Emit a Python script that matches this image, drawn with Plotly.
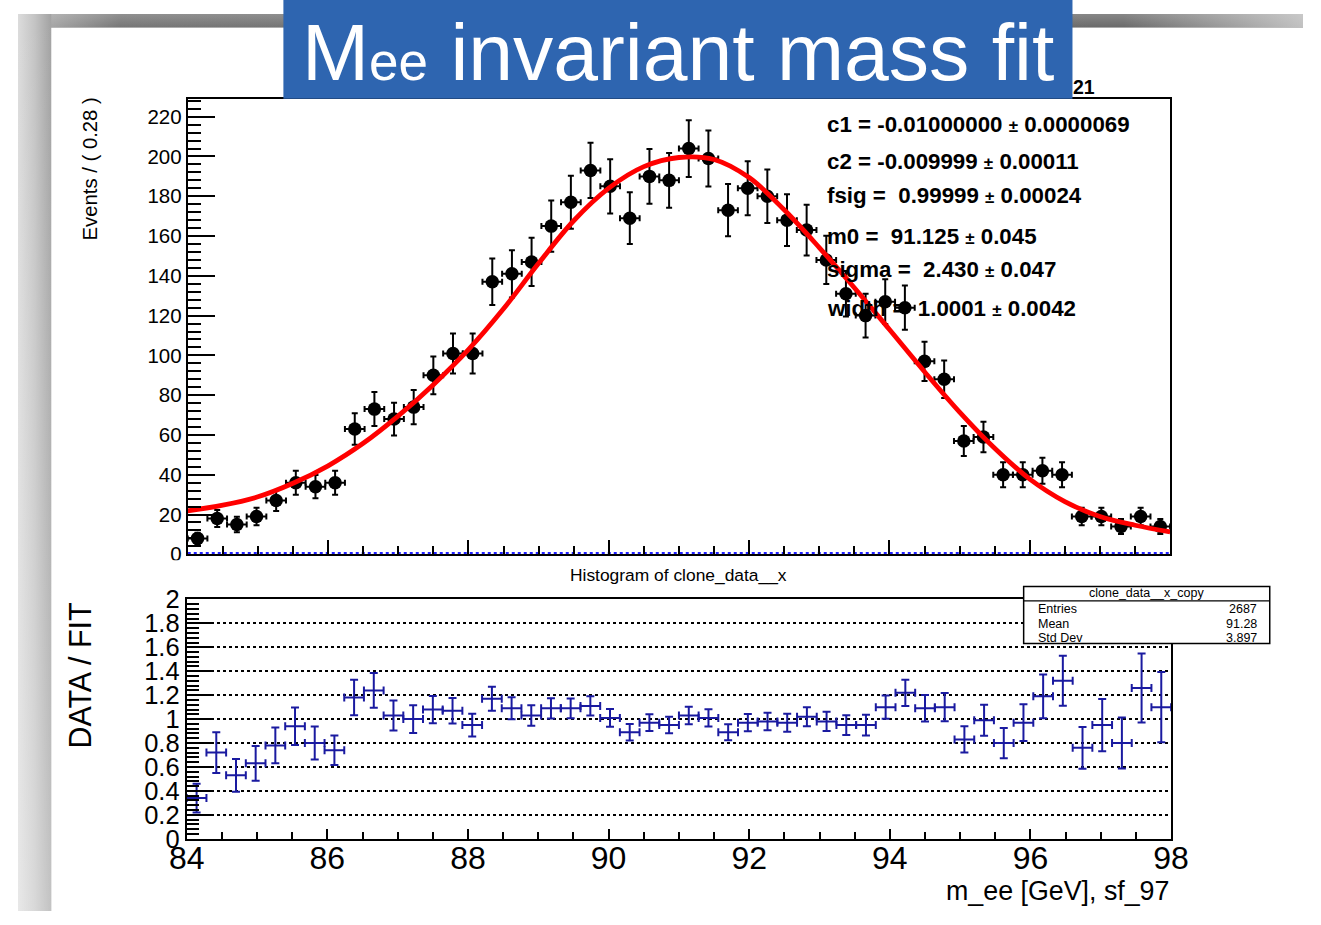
import base64
import numpy as np
import plotly.graph_objects as go

W, H = 1321, 925

# ---------------- data ----------------
bin_centers = [84.14, 84.42, 84.70, 84.98, 85.26, 85.54, 85.82, 86.10, 86.38, 86.66,
               86.94, 87.22, 87.50, 87.78, 88.06, 88.34, 88.62, 88.90, 89.18, 89.46,
               89.74, 90.02, 90.30, 90.58, 90.86, 91.14, 91.42, 91.70, 91.98, 92.26,
               92.54, 92.82, 93.10, 93.38, 93.66, 93.94, 94.22, 94.50, 94.78, 95.06,
               95.34, 95.62, 95.90, 96.18, 96.46, 96.74, 97.02, 97.30, 97.58, 97.86]
half_bin = 0.14

counts = [8, 18, 15, 19, 27, 36, 34, 36, 63, 73,
          68, 74, 90, 101, 101, 137, 141, 147, 165, 177,
          193, 185, 169, 190, 188, 204, 199, 173, 184, 180,
          168, 163, 148, 131, 120, 127, 124, 97, 88, 57,
          59, 40, 40, 42, 40, 19, 19, 14, 19, 14]

ratio = [0.34, 0.72, 0.53, 0.63, 0.78, 0.94, 0.80, 0.74, 1.18, 1.24,
         1.03, 1.00, 1.08, 1.07, 0.95, 1.17, 1.09, 1.03, 1.09, 1.09,
         1.11, 1.01, 0.89, 0.97, 0.95, 1.03, 1.01, 0.89, 0.97, 0.98,
         0.97, 1.02, 0.98, 0.95, 0.95, 1.10, 1.22, 1.09, 1.10, 0.83,
         0.99, 0.80, 0.97, 1.19, 1.32, 0.76, 0.95, 0.80, 1.26, 1.10]

fit_x = [84.0, 84.5, 85.0, 85.5, 86.0, 86.5, 87.0, 87.5, 88.0, 88.5,
         89.0, 89.5, 90.0, 90.5, 91.0, 91.5, 92.0, 92.5, 93.0, 93.5,
         94.0, 94.5, 95.0, 95.5, 96.0, 96.5, 97.0, 97.5, 98.0]
fit_y = [21.8, 24.7, 28.9, 35.7, 44.5, 55.8, 69.6, 85.3, 102.9, 123.4,
         146.3, 167.7, 184.1, 194.9, 199.5, 198.5, 189.4, 173.2, 154.2, 134.0,
         113.0, 91.8, 71.5, 53.3, 37.8, 26.5, 19.0, 14.6, 11.3]

bkg_x = [84.0, 98.0]
bkg_y = [0.6, 0.6]

fit_params = [("c1", "-0.01000000", "0.0000069"),
              ("c2", "-0.009999", "0.00011"),
              ("fsig", "\u00a00.99999", "0.00024"),
              ("m0", "\u00a091.125", "0.045"),
              ("sigma", "\u00a02.430", "0.047"),
              ("width", "\u00a01.0001", "0.0042")]
param_rows_px = [126, 162, 196, 237, 270, 309]

stat_title = "clone_data__x_copy"
stat_labels = ["Entries", "Mean", "Std Dev"]
stat_values = ["2687", "91.28", "3.897"]

y1_ticks = [0, 20, 40, 60, 80, 100, 120, 140, 160, 180, 200, 220]
y2_ticks = [0, 0.2, 0.4, 0.6, 0.8, 1.0, 1.2, 1.4, 1.6, 1.8, 2.0]
y2_ticktext = ["0", "0.2", "0.4", "0.6", "0.8", "1", "1.2", "1.4", "1.6", "1.8", "2"]
x_ticks = [84, 86, 88, 90, 92, 94, 96, 98]

count_err = np.sqrt(np.array(counts, dtype=float))
ratio_err = np.array(ratio) / np.sqrt(np.array(counts, dtype=float))

FONT = "Liberation Sans, Arial, Helvetica, sans-serif"
NAVY = "#1a1aa0"

# photographed picture = page padded by 16px and resized back: map target pixels to page
PAD = 16.0
SX = W / (W + 2 * PAD)
SY = H / (H + 2 * PAD)

def pgx(X):
    return X / SX - PAD

def pgy(Y):
    return Y / SY - PAD

def px(X):
    return pgx(X) / W

def py(Y):
    return (H - pgy(Y)) / H

fig = go.Figure()

fig.add_trace(go.Scatter(
    x=bin_centers, y=counts, mode="markers",
    marker=dict(color="black", size=13.5),
    error_y=dict(type="data", array=count_err, color="black", thickness=2, width=3),
    error_x=dict(type="constant", value=half_bin, color="black", thickness=2, width=3),
    xaxis="x", yaxis="y", showlegend=False, hoverinfo="skip"))

fig.add_trace(go.Scatter(
    x=fit_x, y=fit_y, mode="lines", line=dict(color="#ff0000", width=4.8, shape="spline", smoothing=1.0),
    xaxis="x", yaxis="y", showlegend=False, hoverinfo="skip"))

fig.add_trace(go.Scatter(
    x=bkg_x, y=bkg_y, mode="lines", line=dict(color="#2020ff", width=2, dash="dot"),
    xaxis="x", yaxis="y", showlegend=False, hoverinfo="skip"))

fig.add_trace(go.Scatter(
    x=bin_centers, y=ratio, mode="markers",
    marker=dict(color=NAVY, size=1),
    error_y=dict(type="data", array=ratio_err, color=NAVY, thickness=2, width=4),
    error_x=dict(type="constant", value=half_bin, color=NAVY, thickness=2, width=4),
    xaxis="x2", yaxis="y2", showlegend=False, hoverinfo="skip"))

axis_common = dict(showline=True, linecolor="black", linewidth=2, mirror=True,
                   ticks="inside", tickcolor="black", tickwidth=1.5,
                   zeroline=False, showgrid=False)

fig.update_layout(
    width=W, height=H,
    margin=dict(l=0, r=0, t=0, b=0),
    paper_bgcolor="white", plot_bgcolor="rgba(0,0,0,0)",
    font=dict(family=FONT, color="black"),
    xaxis=dict(domain=[px(186), px(1172)], range=[84, 98], anchor="y",
               tickvals=x_ticks, ticklen=14.5,
               minor=dict(dtick=0.5, tick0=84, ticklen=8, ticks="inside", tickwidth=1.5, tickcolor="black"),
               tickfont=dict(size=20), **axis_common),
    yaxis=dict(domain=[py(554), py(100)], range=[0, 229], anchor="x",
               tickvals=y1_ticks, ticklen=27,
               minor=dict(dtick=4, tick0=0, ticklen=13.5, ticks="inside", tickwidth=1.5, tickcolor="black"),
               tickfont=dict(size=20.5), **axis_common),
    xaxis2=dict(domain=[px(185), px(1173)], range=[84, 98], anchor="y2",
                tickvals=x_ticks, ticklen=10, ticklabelstandoff=-10,
                minor=dict(dtick=0.5, tick0=84, ticklen=6.5, ticks="inside", tickwidth=1.5, tickcolor="black"),
                tickfont=dict(size=32), **axis_common),
    yaxis2=dict(domain=[py(837.5), py(599)], range=[0, 2], anchor="x2",
                tickvals=y2_ticks, ticktext=y2_ticktext, ticklen=26,
                minor=dict(dtick=0.04, tick0=0, ticklen=12.5, ticks="inside", tickwidth=1.5, tickcolor="black"),
                tickfont=dict(size=25.5),
                showline=True, linecolor="black", linewidth=2, mirror=True,
                ticks="inside", tickcolor="black", tickwidth=1.5, zeroline=False,
                showgrid=True, gridcolor="black", griddash="dot", gridwidth=1.5),
)

# gray shadow frame (page coordinates)
top_h = pgy(29)
left_w = pgx(49)
svg = f"""<svg xmlns='http://www.w3.org/2000/svg' width='1321' height='925' viewBox='0 0 1321 925' preserveAspectRatio='none'>
<defs>
<linearGradient id='t' x1='0' y1='0' x2='0' y2='1'><stop offset='0' stop-color='#878787'/><stop offset='1' stop-color='#6a6a6a'/></linearGradient>
<linearGradient id='tf' x1='0' y1='0' x2='1' y2='0'><stop offset='0' stop-color='#dedede' stop-opacity='0.7'/><stop offset='0.08' stop-color='#dedede' stop-opacity='0.1'/><stop offset='0.86' stop-color='#dedede' stop-opacity='0'/><stop offset='1' stop-color='#dedede' stop-opacity='0.75'/></linearGradient>
<linearGradient id='l' x1='0' y1='0' x2='1' y2='0'><stop offset='0' stop-color='#dcdcdc'/><stop offset='0.5' stop-color='#c4c4c4'/><stop offset='1' stop-color='#a2a2a2'/></linearGradient>
<linearGradient id='lv' x1='0' y1='0' x2='0' y2='1'><stop offset='0' stop-color='#ffffff' stop-opacity='0'/><stop offset='1' stop-color='#ffffff' stop-opacity='0.35'/></linearGradient>
</defs>
<rect width='1321' height='925' fill='#ffffff'/>
<rect x='0' y='0' width='1321' height='{top_h:.1f}' fill='url(#t)'/>
<rect x='0' y='0' width='1321' height='{top_h:.1f}' fill='url(#tf)'/>
<rect x='0' y='0' width='{left_w:.1f}' height='925' fill='url(#l)'/>
<rect x='0' y='0' width='{left_w:.1f}' height='925' fill='url(#lv)'/>
</svg>"""
src = "data:image/svg+xml;base64," + base64.b64encode(svg.encode()).decode()
fig.add_layout_image(dict(source=src, xref="paper", yref="paper", x=0, y=1, sizex=1, sizey=1,
                          xanchor="left", yanchor="top", sizing="stretch", layer="below"))

shapes = []
shapes.append(dict(type="rect", xref="paper", yref="paper", x0=px(100), x1=px(1200),
                   y0=py(585), y1=py(560), fillcolor="white", line=dict(width=0), layer="above"))
shapes.append(dict(type="rect", xref="paper", yref="paper", x0=px(282), x1=px(1074),
                   y0=py(100), y1=1.02, fillcolor="#2e65b0", line=dict(width=0), layer="above"))
shapes.append(dict(type="rect", xref="paper", yref="paper", x0=px(1025), x1=px(1272),
                   y0=py(643), y1=py(586), fillcolor="white", line=dict(color="black", width=1.5), layer="above"))
shapes.append(dict(type="line", xref="paper", yref="paper", x0=px(1025), x1=px(1272),
                   y0=py(600.5), y1=py(600.5), line=dict(color="black", width=1.2), layer="above"))
fig.update_layout(shapes=shapes)

def note(text, X, Y, size, xa="left", ya="middle", angle=0, color="black"):
    return dict(text=text, x=px(X), y=py(Y), xref="paper", yref="paper",
                xanchor=xa, yanchor=ya, textangle=angle, showarrow=False,
                font=dict(size=size, color=color, family=FONT))

ann = []
ann.append(note("M<span style='font-size:53px'>ee</span> invariant mass fit", 678.5, 53, 80.5, "center", color="white"))
ann.append(note("<b>21</b>", 1073, 88, 19.5))
for (name, val, err), ypx in zip(fit_params, param_rows_px):
    t = f"<b>{name} = {val} <span style='font-size:17px'>\u00b1</span> {err}</b>"
    ann.append(note(t, 826, ypx, 22.3))
ann.append(note("Events / ( 0.28 )", 88, 97, 20.3, "center", "top", -90))
ann.append(note("DATA / FIT", 78, 600, 30.5, "center", "top", -90))
ann.append(note("m_ee [GeV], sf_97", 1173, 890, 26.8, "right"))
ann.append(note("Histogram of clone_data__x", 678.5, 575, 17.4, "center"))
ann.append(note(stat_title, 1148.5, 593, 12.5, "center"))
for lab, val, ypx in zip(stat_labels, stat_values, [609, 623, 637]):
    ann.append(note(lab, 1037, ypx, 12.5))
    ann.append(note(val, 1261, ypx, 12.5, "right"))
fig.update_layout(annotations=ann)

fig.write_html("out.html", config={"displayModeBar": False},
               post_script="document.body.style.margin='0';document.body.style.padding='0';"
                           "document.body.style.overflow='hidden';")
